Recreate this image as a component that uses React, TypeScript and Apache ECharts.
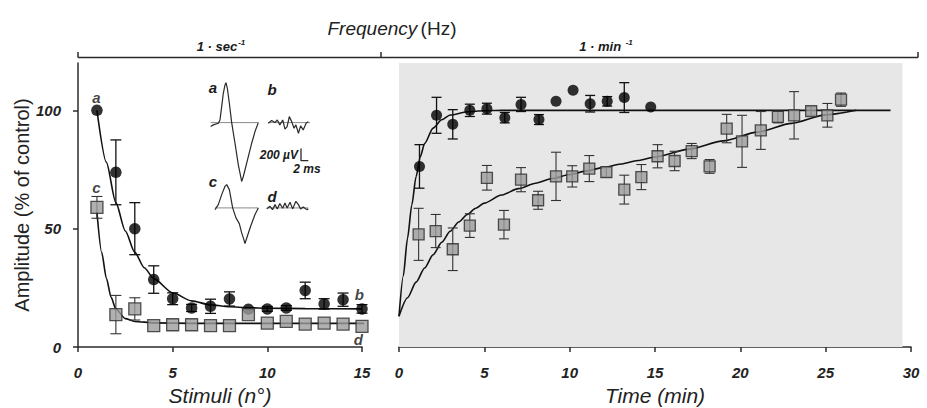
import React, { useEffect, useRef } from "react";
import * as echarts from "echarts";

// ---------- Left panel: amplitude vs stimulus number (1/sec) ----------
const stimuli = [1, 2, 3, 4, 5, 6, 7, 8, 9, 10, 11, 12, 13, 14, 15];
const stimCircle = [100, 73.8, 50, 28.5, 20.4, 16.5, 17.2, 20.3, 16, 16.1, 16.5, 23.9, 18.2, 20, 16.1];
const stimCircleErr = [0, 13.7, 11, 5.8, 2.5, 1.5, 3, 3, 0, 1, 1, 3.5, 2.2, 2.8, 1.8];
const stimSquare = [59, 13.7, 16.1, 9, 9.4, 9.4, 9, 9, 13.7, 10.1, 10.8, 9.7, 10.1, 9.7, 8.7];
const stimSquareErr = [4.6, 8.1, 4.7, 0, 0, 0, 0, 0, 0, 0, 0, 0, 0, 0, 0];
const stimCircleFitX = [1, 1.5, 2, 2.5, 3, 3.5, 4, 5, 6, 7, 8, 9, 10, 12, 15];
const stimCircleFitY = [100, 78, 61, 49, 40, 33.5, 28.9, 22.9, 19.5, 17.8, 17, 16.6, 16.4, 16.2, 16.1];
const stimSquareFitX = [1, 1.25, 1.5, 1.75, 2, 2.5, 3, 4, 6, 10, 15.4];
const stimSquareFitY = [57, 40, 29, 21, 16, 12, 10.8, 10.2, 10, 10, 10];

// ---------- Right panel: recovery vs time (1/min) ----------
const timeCircleX = [1.2, 2.2, 3.15, 4.15, 5.15, 6.2, 7.15, 8.2, 9.2, 10.2, 11.2, 12.2, 13.2, 14.75];
const timeCircleY = [76.3, 97.9, 94.1, 100, 100.7, 96.9, 102.5, 96.1, 103.8, 108.5, 102.8, 103.8, 105.4, 101.4];
const timeCircleErr = [9.2, 7.6, 6.2, 2.6, 2.3, 2.2, 3, 2.1, 0, 0, 3.5, 2, 6.3, 0];
const timeSquareX = [1.15, 2.15, 3.15, 4.15, 5.15, 6.15, 7.15, 8.15, 9.2, 10.15, 11.15, 12.15, 13.2, 14.2, 15.15, 16.15, 17.15, 18.2, 19.2, 20.1, 21.2, 22.2, 23.15, 24.15, 25.1, 25.9];
const timeSquareY = [47.6, 49, 41.3, 51.3, 71.5, 51.7, 70.7, 62, 72.1, 72.1, 75.4, 73.9, 66.5, 71.8, 80.6, 78.6, 82.8, 76.3, 92.3, 86.9, 91.5, 97.2, 97.9, 99.7, 97.9, 104.5];
const timeSquareErr = [11, 7, 9, 5, 5.2, 6, 5.1, 3.8, 10.2, 4.5, 5.5, 2, 6.1, 5.3, 4.9, 4.1, 3.2, 2.9, 6, 11, 8, 2.5, 10, 1.8, 5, 2.8];
const timeCircleFitX = [0, 0.25, 0.5, 0.75, 1, 1.25, 1.5, 2, 2.5, 3, 4, 5, 6, 28.8];
const timeCircleFitY = [13, 30, 46, 60, 72, 80.5, 86, 92.5, 96, 98, 99.4, 99.8, 100, 100];
const timeSquareFitX = [0, 0.5, 1, 1.5, 2, 2.5, 3, 3.5, 4, 4.5, 5, 6, 7, 8, 9, 10, 11, 12, 13, 14, 15, 17, 19, 21, 23, 25, 26.8];
const timeSquareFitY = [13, 20.8, 27.4, 33.4, 39, 44.2, 48.9, 52.8, 56, 58.6, 60.8, 64.2, 66.9, 69.2, 71.2, 72.9, 74.4, 75.9, 77.3, 78.8, 80.3, 83.6, 87.1, 90.8, 94.5, 98.1, 100];
const grayAreaEnd = 29.5;

// ---------- Ticks / ranges ----------
const ampTicks = [0, 50, 100];
const stimRange = [0, 15];
const timeRange = [0, 30];
const ampRange = [0, 120];

// ---------- Point labels ----------
const pointLabels = ["a", "c", "b", "d"];
const pointLabelX = [0.97, 0.97, 14.86, 14.8];
const pointLabelY = [105.5, 67.3, 22, 3];

// ---------- Inset traces (ms, µV) ----------
const traceA = [[1.55, -64], [2.28, -37], [3.65, -10], [4.11, 44], [4.57, 261], [5.02, 478], [5.48, 613], [5.75, 651], [6.12, 559], [6.67, 315], [7.31, 0], [8.22, -336], [9.13, -688], [10.05, -959], [10.5, -878], [11.42, -661], [12.79, -336], [13.7, -146], [14.61, 0]];
const traceB = [[17.35, -10], [18.26, 33], [19.18, 0], [19.8, 43], [20.5, -37], [21.3, 43], [21.9, -108], [22.5, -65], [23.1, 98], [23.75, 16], [24.4, -92], [24.9, -37], [25.6, -173], [26.2, -54], [26.9, -119], [27.7, -10], [28.3, 16]];
const traceC = [[2.74, -27], [3.65, 54], [4.57, 217], [5.48, 352], [5.94, 379], [6.67, 298], [7.58, 0], [8.49, -163], [9.4, -255], [10.05, -407], [10.5, -488], [10.96, -580], [11.6, -461], [12.5, -298], [13.7, -108], [14.61, 0]];
const traceD = [[16.9, -16], [17.8, 26], [18.5, -28], [19.2, 54], [19.8, -16], [20.5, 70], [21.3, -6], [21.9, 81], [22.5, 0], [23.3, 91], [24, -16], [24.9, 107], [25.6, 54], [26.2, -16], [26.9, 16], [27.9, -28], [28.3, -16]];
const baselineA = [1.55, 14.61];
const baselineB = [17.3, 28.8];
const baselineC = [2.74, 14.61];
const baselineD = [16.9, 28.3];
const lowerTraceOffset = -1390;
const scaleBar = [[26.3, -420], [26.3, -620], [28.3, -620]];

const FONT = "'Liberation Sans', Arial, Helvetica, sans-serif";
const AXIS_COLOR = "#2b2b2b";

function errorSeries(xIdx: number, xs: number[], ys: number[], errs: number[], color: string, cap: number, width: number) {
  return {
    type: "custom",
    xAxisIndex: xIdx,
    yAxisIndex: xIdx,
    silent: true,
    clip: false,
    z: 3,
    encode: { x: 0, y: 1 },
    data: xs.map((x, i) => [x, ys[i], errs[i]]),
    renderItem: (params: any, api: any) => {
      const x = api.value(0);
      const y = api.value(1);
      const e = api.value(2);
      if (!e) return null;
      const t = api.coord([x, y + e]);
      const b = api.coord([x, y - e]);
      const style = { stroke: color, lineWidth: width, fill: null };
      return {
        type: "group",
        children: [
          { type: "line", shape: { x1: t[0], y1: t[1], x2: b[0], y2: b[1] }, style },
          { type: "line", shape: { x1: t[0] - cap, y1: t[1], x2: t[0] + cap, y2: t[1] }, style },
          { type: "line", shape: { x1: b[0] - cap, y1: b[1], x2: b[0] + cap, y2: b[1] }, style },
        ],
      };
    },
  };
}

function fitLine(xIdx: number, xs: number[], ys: number[]) {
  return {
    type: "line",
    xAxisIndex: xIdx,
    yAxisIndex: xIdx,
    data: xs.map((x, i) => [x, ys[i]]),
    showSymbol: false,
    symbol: "none",
    smooth: 0.25,
    smoothMonotone: "x",
    clip: false,
    silent: true,
    z: 2,
    lineStyle: { color: "#111", width: 1.6 },
  };
}

function insetLine(data: number[][], color: string, width: number) {
  return {
    type: "line",
    xAxisIndex: 2,
    yAxisIndex: 2,
    data,
    showSymbol: false,
    symbol: "none",
    silent: true,
    clip: false,
    z: 4,
    lineStyle: { color, width },
  };
}

const tickLabelStyle = {
  fontFamily: FONT,
  fontSize: 15,
  fontWeight: "bold",
  fontStyle: "italic",
  color: "#222",
};

function centerText(x: number, y: number, text: string, font: string, align = "center") {
  return {
    type: "text", x, y, silent: true,
    style: { text, align, verticalAlign: "middle", textAlign: align, textVerticalAlign: "middle", font, fill: "#1a1a1a" },
  };
}

function rateLabel(x: number, y: number, base: string) {
  return {
    type: "text", x, y, silent: true,
    style: {
      text: `{b|${base}}{s|-1}`,
      align: "center", verticalAlign: "middle", textAlign: "center", textVerticalAlign: "middle",
      rich: {
        b: { fontFamily: FONT, fontSize: 13, fontWeight: "bold", fontStyle: "italic", fill: "#1a1a1a", color: "#1a1a1a", height: 16, verticalAlign: "bottom" },
        s: { fontFamily: FONT, fontSize: 8, fontWeight: "bold", fontStyle: "italic", fill: "#1a1a1a", color: "#1a1a1a", verticalAlign: "top", padding: [0, 0, 6, 1] },
      },
    },
  };
}

export default function App() {
  const ref = useRef<HTMLDivElement>(null);

  useEffect(() => {
    document.body.style.margin = "0";
    if (!ref.current) return;
    const chart = echarts.init(ref.current, undefined, { renderer: "svg" });

    const axisLine = { show: true, lineStyle: { color: AXIS_COLOR, width: 1.5 } };
    const axisTick = { show: true, length: 5, lineStyle: { color: AXIS_COLOR, width: 1.5 } };
    const bracket = { stroke: AXIS_COLOR, lineWidth: 1.5 };

    const option: any = {
      animation: false,
      backgroundColor: "#fff",
      grid: [
        { left: 78, top: 63, width: 284, height: 284, outerBoundsMode: "none" },
        { left: 399, top: 63, width: 512, height: 284, outerBoundsMode: "none" },
        { left: 205, top: 73.5, width: 116.8, height: 178, outerBoundsMode: "none" },
      ],
      xAxis: [
        {
          gridIndex: 0, type: "value", min: stimRange[0], max: stimRange[1], interval: 5, offset: 11,
          axisLine, axisTick, splitLine: { show: false },
          axisLabel: { ...tickLabelStyle, margin: 7 },
          name: "Stimuli (n°)", nameLocation: "middle", nameGap: 23,
          nameTextStyle: { fontFamily: FONT, fontSize: 21, fontStyle: "italic", color: "#222" },
        },
        {
          gridIndex: 1, type: "value", min: timeRange[0], max: timeRange[1], interval: 5, offset: 11,
          axisLine, axisTick, splitLine: { show: false },
          axisLabel: { ...tickLabelStyle, margin: 7 },
          name: "Time (min)", nameLocation: "middle", nameGap: 23,
          nameTextStyle: { fontFamily: FONT, fontSize: 21, fontStyle: "italic", color: "#222" },
        },
        { gridIndex: 2, type: "value", min: 0, max: 32, show: false },
      ],
      yAxis: [
        {
          gridIndex: 0, type: "value", min: ampRange[0], max: ampRange[1], offset: 10,
          axisLine, splitLine: { show: false },
          axisTick: { ...axisTick, customValues: ampTicks },
          axisLabel: { ...tickLabelStyle, margin: 7, customValues: ampTicks },
          name: "Amplitude (% of control)", nameLocation: "middle", nameGap: 30,
          nameTextStyle: { fontFamily: FONT, fontSize: 20, color: "#222" },
        },
        { gridIndex: 1, type: "value", min: ampRange[0], max: ampRange[1], show: false },
        { gridIndex: 2, type: "value", min: -2100, max: 800, show: false },
      ],
      series: [
        // gray background of the recovery panel
        {
          type: "line", xAxisIndex: 1, yAxisIndex: 1, data: [[0, 0]], showSymbol: false, symbol: "none",
          silent: true, z: 0, lineStyle: { width: 0 },
          markArea: {
            silent: true,
            itemStyle: { color: "#e7e7e7" },
            data: [[{ coord: [0, ampRange[0]] }, { coord: [grayAreaEnd, ampRange[1]] }]],
          },
        },
        // left panel
        fitLine(0, stimCircleFitX, stimCircleFitY),
        fitLine(0, stimSquareFitX, stimSquareFitY),
        errorSeries(0, stimuli, stimCircle, stimCircleErr, "#111", 5.5, 1.3),
        errorSeries(0, stimuli, stimSquare, stimSquareErr, "#333", 5.5, 1.1),
        {
          type: "scatter", xAxisIndex: 0, yAxisIndex: 0, z: 5, silent: true,
          data: stimuli.map((x, i) => [x, stimCircle[i]]),
          symbol: "circle", symbolSize: 11.5, itemStyle: { color: "#000" },
        },
        {
          type: "scatter", xAxisIndex: 0, yAxisIndex: 0, z: 6, silent: true,
          data: stimuli.map((x, i) => [x, stimSquare[i]]),
          symbol: "rect", symbolSize: 12,
          itemStyle: { color: "#9c9c9c", borderColor: "#2a2a2a", borderWidth: 1.3 },
        },
        {
          type: "scatter", xAxisIndex: 0, yAxisIndex: 0, z: 7, silent: true,
          data: pointLabels.map((n, i) => ({ value: [pointLabelX[i], pointLabelY[i]], name: n })),
          symbolSize: 0,
          label: {
            show: true, position: "inside", formatter: (p: any) => p.name,
            fontFamily: FONT, fontSize: 15, fontWeight: "bold", fontStyle: "italic", color: "#111",
          },
        },
        // right panel
        fitLine(1, timeCircleFitX, timeCircleFitY),
        fitLine(1, timeSquareFitX, timeSquareFitY),
        errorSeries(1, timeCircleX, timeCircleY, timeCircleErr, "#111", 5, 1.3),
        errorSeries(1, timeSquareX, timeSquareY, timeSquareErr, "#333", 5, 1.1),
        {
          type: "scatter", xAxisIndex: 1, yAxisIndex: 1, z: 5, silent: true,
          data: timeCircleX.map((x, i) => [x, timeCircleY[i]]),
          symbol: "circle", symbolSize: 11, itemStyle: { color: "#000" },
        },
        {
          type: "scatter", xAxisIndex: 1, yAxisIndex: 1, z: 6, silent: true,
          data: timeSquareX.map((x, i) => [x, timeSquareY[i]]),
          symbol: "rect", symbolSize: 11,
          itemStyle: { color: "#9c9c9c", borderColor: "#2a2a2a", borderWidth: 1.3 },
        },
        // inset traces
        insetLine([[baselineA[0], 0], [baselineA[1], 0]], "#8a8a8a", 1),
        insetLine([[baselineB[0], 0], [baselineB[1], 0]], "#8a8a8a", 1),
        insetLine([[baselineC[0], lowerTraceOffset], [baselineC[1], lowerTraceOffset]], "#8a8a8a", 1),
        insetLine([[baselineD[0], lowerTraceOffset], [baselineD[1], lowerTraceOffset]], "#8a8a8a", 1),
        insetLine(traceA, "#2a2a2a", 1.2),
        insetLine(traceB, "#2a2a2a", 1.2),
        insetLine(traceC.map(([t, v]) => [t, v + lowerTraceOffset]), "#2a2a2a", 1.2),
        insetLine(traceD.map(([t, v]) => [t, v + lowerTraceOffset]), "#2a2a2a", 1.2),
        insetLine(scaleBar, "#2a2a2a", 1.3),
      ],
      graphic: [
        {
          type: "text", x: 392, y: 28, silent: true,
          style: {
            text: "{i|Frequency} {n|(Hz)}",
            align: "center", verticalAlign: "middle", textAlign: "center", textVerticalAlign: "middle",
            rich: {
              i: { fontFamily: FONT, fontSize: 19, fontStyle: "italic", fill: "#222", color: "#222" },
              n: { fontFamily: FONT, fontSize: 19, fill: "#222", color: "#222" },
            },
          },
        },
        { type: "line", silent: true, shape: { x1: 78, y1: 57.5, x2: 918, y2: 57.5 }, style: bracket },
        { type: "line", silent: true, shape: { x1: 78, y1: 52, x2: 78, y2: 57.5 }, style: bracket },
        { type: "line", silent: true, shape: { x1: 381, y1: 52, x2: 381, y2: 57.5 }, style: bracket },
        { type: "line", silent: true, shape: { x1: 918, y1: 52, x2: 918, y2: 57.5 }, style: bracket },
        rateLabel(221, 46, "1 · sec"),
        rateLabel(606, 46, "1 · min "),
        // inset labels
        centerText(213, 87, "a", `italic bold 15px ${FONT}`),
        centerText(272, 89, "b", `italic bold 15px ${FONT}`),
        centerText(213, 181, "c", `italic bold 15px ${FONT}`),
        centerText(272, 196, "d", `italic bold 15px ${FONT}`),
        centerText(298, 155, "200 µV", `italic bold 12px ${FONT}`, "right"),
        centerText(307, 169, "2 ms", `italic bold 12px ${FONT}`),
      ],
    };

    chart.setOption(option);
    return () => chart.dispose();
  }, []);

  return <div ref={ref} style={{ width: 927, height: 408 }} />;
}
